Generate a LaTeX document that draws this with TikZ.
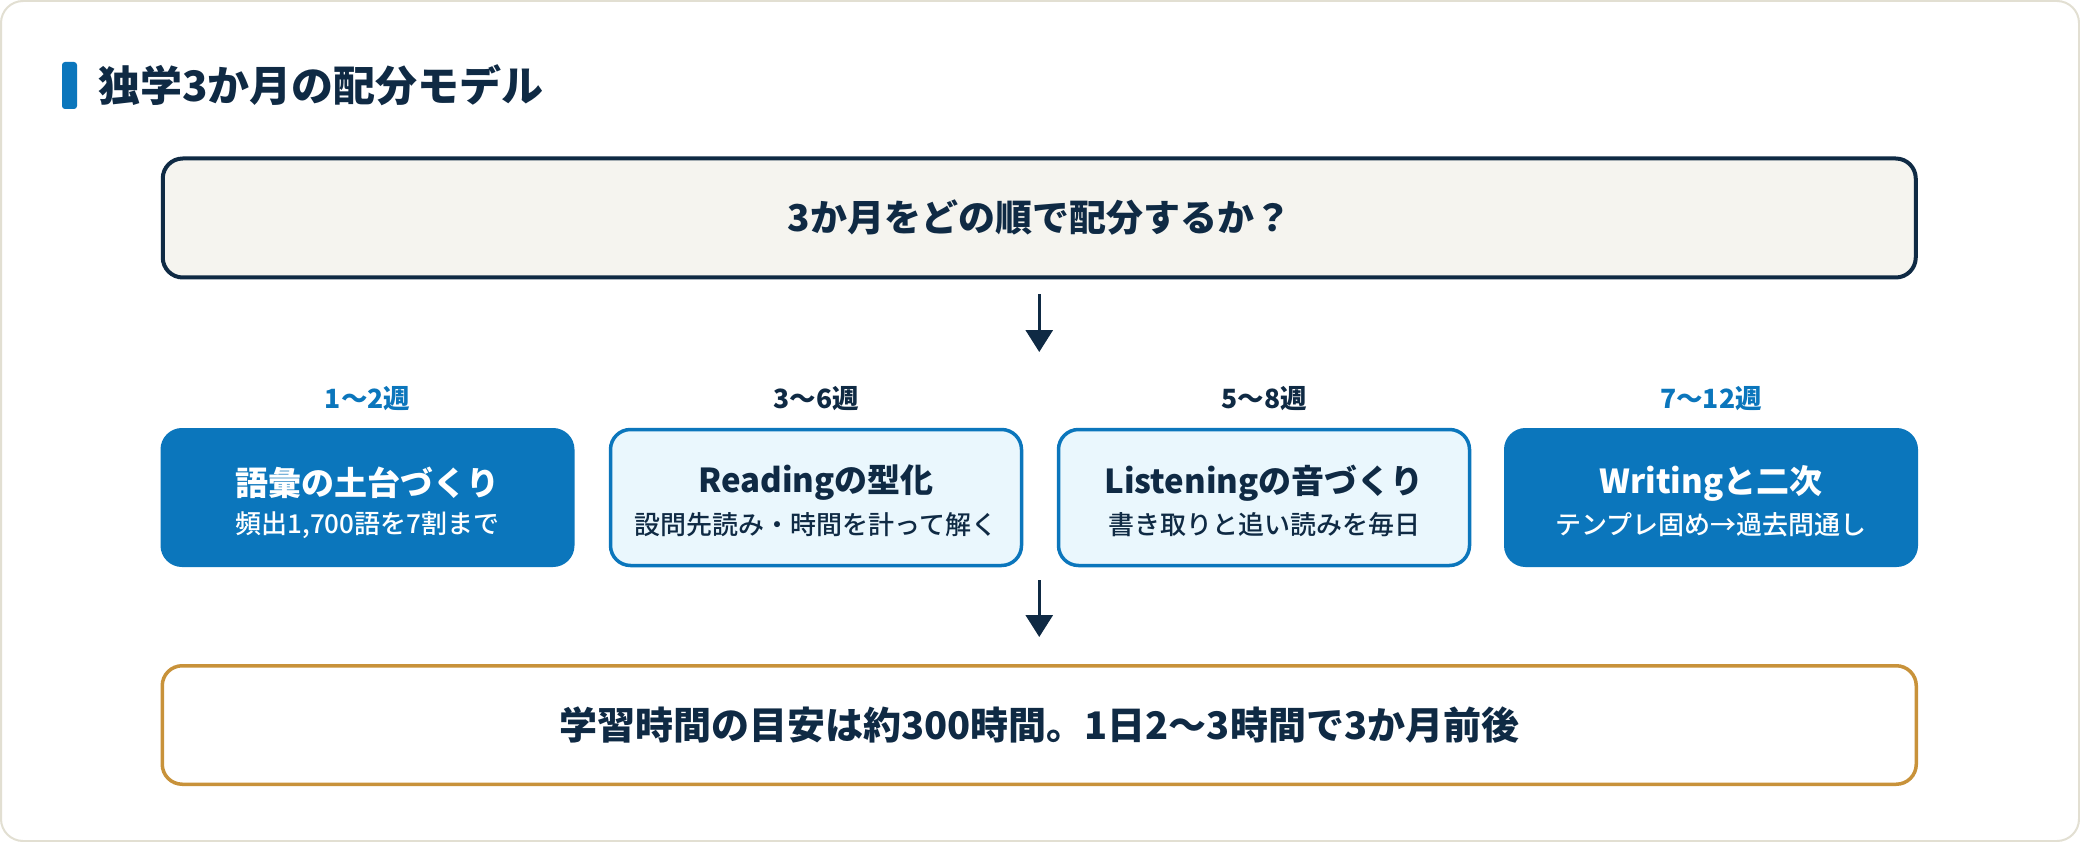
\documentclass[tikz,border=0pt]{standalone}
\usepackage{fontspec}
\setmainfont{Noto Sans CJK JP}
\newfontfamily\heavy{Noto Sans CJK JP Black}
\newfontfamily\medium{Noto Sans CJK JP Medium}
\usetikzlibrary{positioning, arrows.meta}
\definecolor{navy}{RGB}{15,42,68}
\definecolor{blue}{RGB}{11,118,188}
\definecolor{pale}{RGB}{234,247,253}
\definecolor{paper}{RGB}{245,244,239}
\definecolor{gold}{RGB}{200,146,58}
\definecolor{rim}{RGB}{226,223,210}
\tikzstyle{frame}=[rectangle, rounded corners=22pt, draw=rim, line width=2pt, fill=white, minimum width=2078pt, minimum height=840pt]
\tikzstyle{titlebar}=[rectangle, rounded corners=3pt, fill=blue, minimum width=15pt, minimum height=47pt, inner sep=0pt, outer sep=0pt]
\tikzstyle{heading}=[inner sep=0pt, text=navy, font=\fontsize{42}{50}\selectfont\heavy]
\tikzstyle{question}=[rectangle, rounded corners=20pt, draw=navy, line width=4pt, fill=paper, minimum width=1753pt, minimum height=119pt, text=navy, font=\fontsize{37}{44}\selectfont\bfseries]
\tikzstyle{phase}=[rectangle, rounded corners=20pt, minimum width=411pt, minimum height=136pt]
\tikzstyle{dark}=[phase, fill=blue, draw=blue, line width=3pt]
\tikzstyle{light}=[phase, fill=pale, draw=blue, line width=3.5pt]
\tikzstyle{week}=[inner sep=0pt, font=\fontsize{26.5}{32}\selectfont\bfseries]
\tikzstyle{ptitle}=[inner sep=0pt, font=\fontsize{33}{40}\selectfont\bfseries]
\tikzstyle{psub}=[inner sep=0pt, font=\fontsize{26}{32}\selectfont\medium]
\tikzstyle{goal}=[rectangle, rounded corners=20pt, draw=gold, line width=3.5pt, fill=white, minimum width=1754pt, minimum height=118.5pt, text=navy, font=\fontsize{38}{46}\selectfont\bfseries]
\tikzstyle{arr}=[draw=navy, line width=3pt, -{Triangle[width=27pt,length=22pt]}]
\begin{document}
\begin{tikzpicture}[x=1pt, y=-1pt]
            %card, heading and the question
            \useasboundingbox (0,0) rectangle (2080,842);
            \node[frame](card) at (1040,421){};
            \node[titlebar](bar) at (69.5,85.5){};
            \node[heading, right = 21pt of bar](head){独学3か月の配分モデル};
            \node[question](q) at (1039.25,218){3か月をどの順で配分するか？};
            \coordinate (a1e) at (1039.25,352);
            \draw[arr] ([yshift=-15pt]q.south) -- (a1e);
            %four phases with their weeks
            \foreach \n/\x/\kind/\tc/\wc/\wk/\ttl/\sub in {
                1/367.5/dark/white/blue/{1〜2週}/{語彙の土台づくり}/{頻出1,700語を7割まで},
                2/816/light/navy/navy/{3〜6週}/{Readingの型化}/{設問先読み・時間を計って解く},
                3/1264/light/navy/navy/{5〜8週}/{Listeningの音づくり}/{書き取りと追い読みを毎日},
                4/1711/dark/white/blue/{7〜12週}/{Writingと二次}/{テンプレ固め→過去問通し}}{
                \node[week, text=\wc](w\n) at (\x,399){\wk};
                \node[\kind](p\n) at (\x,497.5){};
                \node[ptitle, text=\tc](t\n) at ([yshift=14.5pt]p\n.center){\ttl};
                \node[psub, text=\tc](s\n) at ([yshift=-27.5pt]p\n.center){\sub};
            }
            %time budget
            \node[goal](sum) at (1039.25,725){学習時間の目安は約300時間。1日2〜3時間で3か月前後};
            \coordinate (a2s) at (1039.25,580);
            \draw[arr, shorten >=27pt] (a2s) -- (a2s |- sum.north);
\end{tikzpicture}
\end{document}
